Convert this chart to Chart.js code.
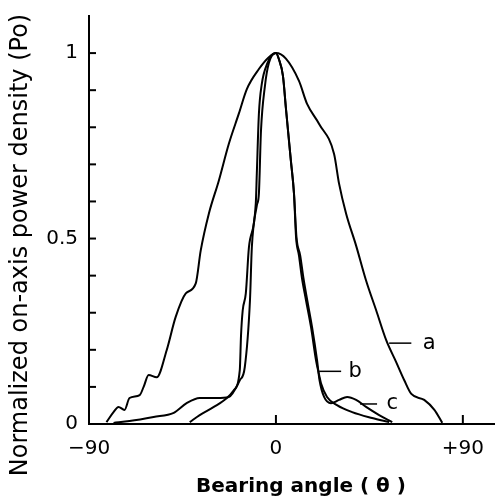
<!DOCTYPE html>
<html>
<head>
<meta charset="utf-8">
<script src="https://cdn.jsdelivr.net/npm/chart.js@4"></script>
<style>
  html, body { margin: 0; padding: 0; background: #fff; }
  #Chart { display: block; }
</style>
</head>
<body>
<canvas id="Chart" width="495" height="499"></canvas>
<script>
// curve a (widest)
const aAngle = [-81.6, -78.2, -75.8, -72.9, -70.5, -65.6, -63.7, -61.3, -57.4, -52.6, -48.3, -43.4, -38.6, -36.2, -32.3, -27.5, -22.7, -17.9, -14.0, -8.2, -3.4, 0, 4.8, 11.1, 15.0, 20.8, 28.0, 30.4, 33.8, 38.6, 43.4, 48.3, 53.1, 57.9, 61.8, 65.2, 71.4, 76.3, 80.1];
const aPower = [0.005, 0.032, 0.046, 0.038, 0.07, 0.078, 0.10, 0.132, 0.126, 0.199, 0.288, 0.352, 0.379, 0.468, 0.567, 0.656, 0.755, 0.836, 0.903, 0.957, 0.989, 1.0, 0.985, 0.925, 0.863, 0.809, 0.728, 0.648, 0.567, 0.481, 0.387, 0.306, 0.226, 0.167, 0.118, 0.081, 0.065, 0.038, 0.003];

// curve b (narrow, smooth tails)
const bAngle = [-41.5, -36.7, -29.9, -23.6, -20.3, -17.4, -16.8, -16.0, -14.5, -13.0, -9.7, -9.2, -8.2, -6.8, -4.3, 0, 1.4, 3.4, 4.8, 6.3, 7.2, 8.7, 9.7, 11.1, 12.5, 14.5, 16.9, 19.3, 20.8, 21.7, 24.6, 29.4, 36.7, 46.3, 54.5];
const bPower = [0.005, 0.024, 0.046, 0.07, 0.091, 0.145, 0.239, 0.306, 0.352, 0.476, 0.594, 0.675, 0.836, 0.917, 0.97, 1.0, 0.984, 0.938, 0.852, 0.763, 0.71, 0.621, 0.503, 0.454, 0.395, 0.333, 0.261, 0.172, 0.132, 0.11, 0.073, 0.051, 0.032, 0.016, 0.005];

// curve c (narrow, with side shoulders)
const cAngle = [-78.2, -70.5, -58.9, -49.2, -43.0, -36.7, -28.5, -22.7, -17.4, -15.0, -12.5, -11.6, -9.2, -8.2, -7.2, -5.3, -3.4, 0, 1.4, 3.4, 4.8, 6.3, 7.2, 8.7, 9.9, 11.7, 13.2, 15.1, 17.4, 19.8, 21.0, 23.2, 26.5, 30.4, 34.3, 38.6, 43.4, 49.7, 56.0];
const cPower = [0.003, 0.008, 0.019, 0.03, 0.056, 0.07, 0.07, 0.073, 0.118, 0.153, 0.333, 0.476, 0.589, 0.621, 0.79, 0.911, 0.973, 1.0, 0.984, 0.938, 0.852, 0.763, 0.71, 0.621, 0.503, 0.454, 0.395, 0.333, 0.261, 0.172, 0.118, 0.073, 0.056, 0.065, 0.073, 0.065, 0.046, 0.024, 0.005];

const xTicks = [-90, 0, 90];
const xTickLabels = ['\u221290', '0', '+90'];
const yTicks = [0, 0.5, 1];
const yTickLabels = ['0', '0.5', '1'];
const yMinorTicks = [0.1, 0.2, 0.3, 0.4, 0.5, 0.6, 0.7, 0.8, 0.9, 1.0];

const curveNames = ['a', 'b', 'c'];

document.addEventListener('DOMContentLoaded', function () {

  const ctx = document.getElementById('Chart');
  const font = 'DejaVu Sans';

  function toPoints(xs, ys) {
    return xs.map((x, i) => ({ x: x, y: ys[i] }));
  }

  // leader lines + letters next to the curves (in data units)
  const callouts = [
    { name: curveNames[0], from: 54.5, to: 65.2, y: 0.218, tx: 73.8 },
    { name: curveNames[1], from: 20.8, to: 31.4, y: 0.142, tx: 38.1 },
    { name: curveNames[2], from: 40.5, to: 48.7, y: 0.054, tx: 56.0 }
  ];

  const decorations = {
    id: 'decorations',
    afterDraw(chart) {
      const c = chart.ctx;
      const xs = chart.scales.x;
      const ys = chart.scales.y;
      const area = chart.chartArea;
      c.save();
      c.strokeStyle = '#000';
      c.fillStyle = '#000';
      c.lineWidth = 2;

      // inward tick marks
      yMinorTicks.forEach(v => {
        const py = ys.getPixelForValue(v);
        c.beginPath();
        c.moveTo(area.left, py);
        c.lineTo(area.left + 7, py);
        c.stroke();
      });
      xTicks.slice(1).forEach(v => {
        const px = xs.getPixelForValue(v);
        c.beginPath();
        c.moveTo(px, area.bottom);
        c.lineTo(px, area.bottom - 9);
        c.stroke();
      });

      // callouts
      c.lineWidth = 1.5;
      c.font = '21px "' + font + '"';
      c.textBaseline = 'middle';
      c.textAlign = 'center';
      callouts.forEach(o => {
        const py = ys.getPixelForValue(o.y);
        c.beginPath();
        c.moveTo(xs.getPixelForValue(o.from), py);
        c.lineTo(xs.getPixelForValue(o.to), py);
        c.stroke();
        c.fillText(o.name, xs.getPixelForValue(o.tx), py);
      });

      // axis titles
      c.font = 'bold 20px "' + font + '"';
      c.fillText('Bearing angle ( \u03b8 )', 301, 487);
      c.save();
      c.translate(21, 245);
      c.rotate(-Math.PI / 2);
      c.font = '24px "' + font + '"';
      c.fillText('Normalized on-axis power density (Po)', 0, 0);
      c.restore();

      c.restore();
    }
  };

  const lineStyle = {
    borderColor: '#000',
    borderWidth: 2,
    pointRadius: 0,
    cubicInterpolationMode: 'monotone',
    fill: false
  };

  const data = {
    datasets: [
      Object.assign({ label: curveNames[0], data: toPoints(aAngle, aPower) }, lineStyle),
      Object.assign({ label: curveNames[1], data: toPoints(bAngle, bPower) }, lineStyle),
      Object.assign({ label: curveNames[2], data: toPoints(cAngle, cPower) }, lineStyle)
    ]
  };

  new Chart(ctx, {
    type: 'line',
    data: data,
    plugins: [decorations],
    options: {
      responsive: false,
      animation: false,
      devicePixelRatio: 1,
      layout: { padding: { top: 16, right: 1, left: 0, bottom: 0 } },
      plugins: {
        legend: { display: false },
        tooltip: { enabled: false }
      },
      scales: {
        x: {
          type: 'linear',
          min: -90,
          max: 105,
          afterFit: scale => {
            scale.height = 75;
            scale.paddingLeft = 0;
            scale.paddingRight = 0;
          },
          afterBuildTicks: scale => { scale.ticks = xTicks.map(v => ({ value: v })); },
          grid: { display: false, drawTicks: false },
          border: { display: true, color: '#000', width: 2 },
          ticks: {
            color: '#000',
            padding: 13,
            maxRotation: 0,
            autoSkip: false,
            font: { family: font, size: 20 },
            callback: v => xTickLabels[xTicks.indexOf(v)]
          }
        },
        y: {
          type: 'linear',
          min: 0,
          max: 1.1,
          afterFit: scale => {
            scale.width = 89;
            scale.paddingTop = 0;
            scale.paddingBottom = 0;
          },
          afterBuildTicks: scale => { scale.ticks = yTicks.map(v => ({ value: v })); },
          grid: { display: false, drawTicks: false },
          border: { display: true, color: '#000', width: 2 },
          ticks: {
            color: '#000',
            padding: 11,
            autoSkip: false,
            font: { family: font, size: 20 },
            callback: v => yTickLabels[yTicks.indexOf(v)]
          }
        }
      }
    }
  });
});
</script>
</body>
</html>
